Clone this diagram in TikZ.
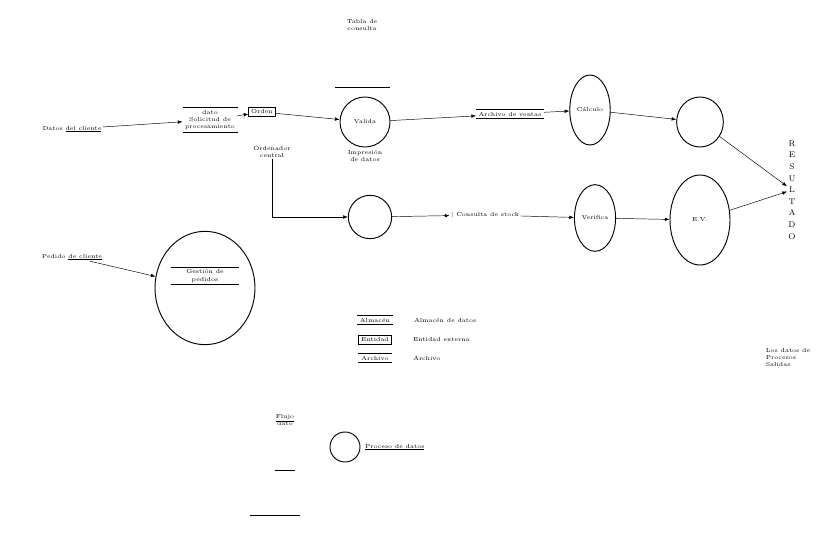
\documentclass[tikz,border=0pt]{standalone}
\usepackage{amsmath}
\usepackage{tikz}
\usetikzlibrary{positioning}
\usetikzlibrary{arrows.meta,shapes.geometric}
\tikzset{
  txt/.style={font=\tiny, align=center, inner sep=1pt},
  proc/.style={draw, thick, ellipse, font=\tiny, align=center, inner sep=1pt},
  almacen/.style={font=\tiny, align=center, inner sep=2pt,
    append after command={
      \pgfextra{\draw[thick] (\tikzlastnode.north west) -- (\tikzlastnode.north east)
        (\tikzlastnode.south west) -- (\tikzlastnode.south east);}}},
  entbox/.style={draw, thick, font=\tiny, inner sep=2pt},
  flujo/.style={-{Latex[length=4pt,width=3pt]}, thin}
}

\begin{document}
\begin{tikzpicture}[x=0.03cm, y=-0.03cm, node distance=0.2cm]
      \useasboundingbox (0,0) rectangle (832,539);
      \node(tabla) [txt] at (362,25) {Tabla de\\ consulta};
      \node(cli) [txt] at (72,129) {Datos \underline{del cliente}};
      \node(sol) [almacen, minimum width=0.9cm] at (210,120) {dato\\ Solicitud de\\ procesamiento};
      \node(ord) [entbox] at (262,112) {Orden};
      \node(cen) [txt] at (272,152) {Ordenador\\ central};
      \node(val) [proc, minimum size=1.5cm] at (365,122) {Valida};
      \node(imp) [txt, below=0.05cm of val] {Impresión\\ de datos};
      \node(arc) [almacen, minimum width=1.5cm] at (510,114) {Archivo de ventas};
      \node(calc) [proc, minimum width=1.2cm, minimum height=2.1cm] at (590,110) {Cálculo};
      \node(rep) [proc, minimum width=1.4cm, minimum height=1.5cm] at (700,122) {};
      \node(lista) [txt, font=\scriptsize] at (792,190) {\shortstack{R\\[2pt]E\\[2pt]S\\[2pt]U\\[2pt]L\\[2pt]T\\[2pt]A\\[2pt]D\\[2pt]O}};
      \node(reg) [proc, minimum size=1.3cm] at (370,217) {};
      \node(cons) [txt] at (485,215) {$|$ Consulta de stock};
      \node(ver) [proc, minimum width=1.2cm, minimum height=2cm] at (595,218) {Verifica};
      \node(emi) [proc, minimum width=1.8cm, minimum height=2.7cm] at (700,220) {E.V.};
      \node(ped) [txt] at (72,257) {Pedido \underline{de cliente}};
      \node(ges) [proc, minimum width=3cm, minimum height=3.4cm] at (205,288) {};
      \node(gesal) [almacen, minimum width=2cm] at (205,276) {Gestión de\\ pedidos};
      \node(lalm) [almacen, minimum width=1cm] at (375,320) {Almacén};
      \node(lent) [entbox] at (375,340) {Entidad};
      \node(larc) [almacen, minimum width=1cm] at (375,358) {Archivo};
      \node(lalmt) [txt, right=0.6cm of lalm] {Almacén de datos};
      \node(lentt) [txt, right=0.6cm of lent] {Entidad externa};
      \node(larct) [txt, right=0.6cm of larc] {Archivo};
      \node(lflu) [txt] at (285,420) {\underline{Flujo}\\ dato};
      \node(lproc) [proc, minimum size=0.9cm] at (345,447) {};
      \node(lproct) [txt, right=0.1cm of lproc] {\underline{Proceso de datos}};
      \node(ley) [txt, align=left] at (788,358) {Los datos de\\ Procesos\\ Salidas};
      \coordinate(v1) at (335,87);
      \coordinate(v2) at (390,87);
      \coordinate(l1a) at (275,470);
      \coordinate(l1b) at (295,470);
      \coordinate(l2a) at (250,515);
      \coordinate(l2b) at (300,515);

      \draw[thick] (v1) -- (v2);
      \draw[thick] (l1a) -- (l1b);
      \draw[thick] (l2a) -- (l2b);
      \draw[flujo] (cli) -- (sol);
      \draw[flujo] (sol) -- (ord);
      \draw[flujo] (ord) -- (val);
      \draw[flujo] (val) -- (arc);
      \draw[flujo] (arc) -- (calc);
      \draw[flujo] (calc) -- (rep);
      \draw[flujo] (rep) -- (lista);
      \draw[flujo] (emi) -- (lista);
      \draw[flujo] (cen) |- (reg);
      \draw[flujo] (reg) -- (cons);
      \draw[flujo] (cons) -- (ver);
      \draw[flujo] (ver) -- (emi);
      \draw[flujo] (ped) -- (ges);
    \end{tikzpicture}
\end{document}
